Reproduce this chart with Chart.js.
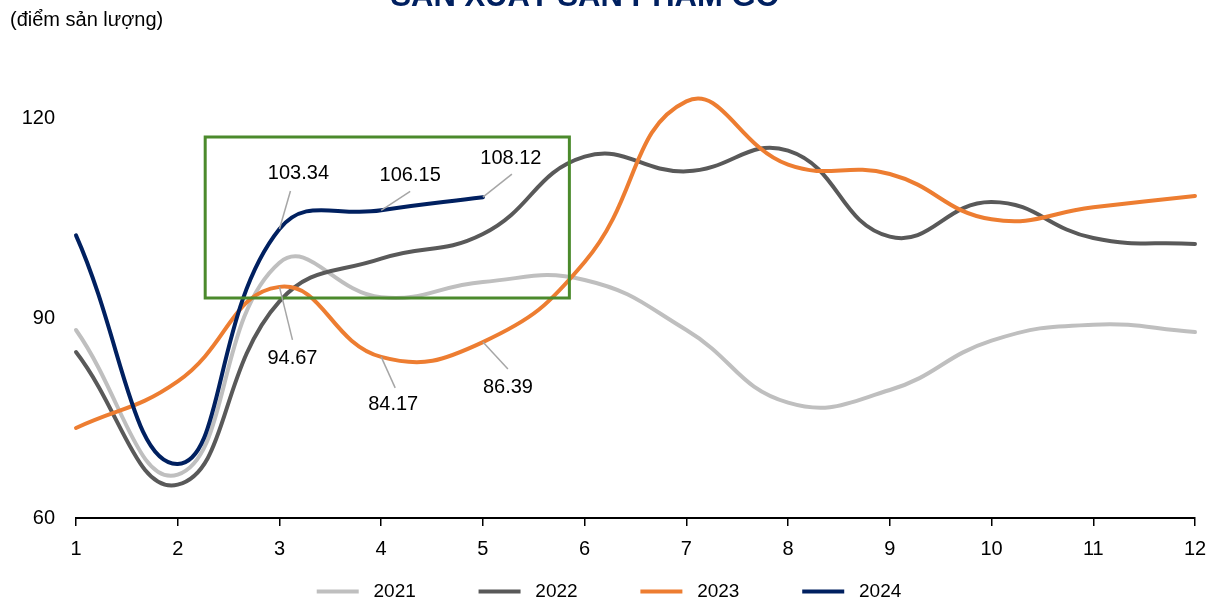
<!DOCTYPE html>
<html>
<head>
<meta charset="utf-8">
<script src="https://cdn.jsdelivr.net/npm/chart.js@4.4.1/dist/chart.umd.min.js"></script>
<style>
  html, body { margin: 0; padding: 0; background: #ffffff; }
  #wrap { position: relative; width: 1206px; height: 599px; }
</style>
</head>
<body>
<div id="wrap"><canvas id="chart" width="1206" height="599"></canvas></div>
<script>
// Monthly output index of wood products, one series per year
const months = [1, 2, 3, 4, 5, 6, 7, 8, 9, 10, 11, 12];
const years = ['2021', '2022', '2023', '2024'];
const values2021 = [88.2, 66.5, 98.3, 93.1, 95.4, 95.7, 88.2, 77.3, 79.2, 86.6, 89.0, 87.9];
const values2022 = [84.9, 65.0, 92.5, 98.9, 102.6, 114.2, 112.0, 115.1, 102.2, 107.4, 102.0, 101.1];
const values2023 = [73.5, 80.5, 94.67, 84.17, 86.39, 98.4, 122.5, 113.0, 111.6, 104.8, 106.6, 108.3];
const values2024 = [102.4, 68.1, 103.34, 106.15, 108.12];
const yTicks = [60, 90, 120];

const titleText = 'SẢN XUẤT SẢN PHẨM GỖ';
const unitText = '(điểm sản lượng)';

// Value callouts: [series index, month, value, label dx, label dy, leader dx, leader dy]
const callouts = [
  [3, 3, 103.34, 19, -56, 11, -38],
  [3, 4, 106.15, 29, -35, 29, -19],
  [3, 5, 108.12, 28, -39, 29, -23],
  [2, 3, 94.67, 13, 72, 13, 53],
  [2, 4, 84.17, 12, 48, 14, 31],
  [2, 5, 86.39, 25, 45, 25, 27]
];
// Highlight frame in data units: [xMin, xMax, yMin, yMax]
const frame = [2.27, 5.85, 93.0, 117.15];

const seriesValues = [values2021, values2022, values2023, values2024];
const colors = ['#BFBFBF', '#595959', '#ED7D31', '#002060'];
const FONT = "'Liberation Sans', Arial, sans-serif";

const toPoints = vals => vals.map((v, i) => ({ x: months[i], y: v }));

const datasets = years.map((yr, i) => ({
  label: yr,
  data: toPoints(seriesValues[i]),
  borderColor: colors[i],
  backgroundColor: colors[i],
  borderWidth: 4,
  pointRadius: 0,
  pointHoverRadius: 0,
  tension: 0.45,
  clip: false,
  order: years.length - 1 - i,
  borderCapStyle: 'round'
}));

const decorations = {
  id: 'decorations',
  afterDatasetsDraw(chart) {
    const { ctx, scales: { x, y } } = chart;
    ctx.save();
    // highlight frame
    ctx.strokeStyle = '#4B8A2C';
    ctx.lineWidth = 3;
    const fx0 = x.getPixelForValue(frame[0]);
    const fx1 = x.getPixelForValue(frame[1]);
    const fy0 = y.getPixelForValue(frame[3]);
    const fy1 = y.getPixelForValue(frame[2]);
    ctx.strokeRect(fx0, fy0, fx1 - fx0, fy1 - fy0);

    // callouts with leader lines
    ctx.font = '20px ' + FONT;
    ctx.textAlign = 'center';
    ctx.textBaseline = 'middle';
    callouts.forEach(([s, m, v, lx, ly, ex, ey]) => {
      const px = x.getPixelForValue(m);
      const py = y.getPixelForValue(v);
      ctx.strokeStyle = '#A6A6A6';
      ctx.lineWidth = 1.5;
      ctx.beginPath();
      ctx.moveTo(px, py);
      ctx.lineTo(px + ex, py + ey);
      ctx.stroke();
      ctx.fillStyle = '#000000';
      ctx.fillText(v.toFixed(2), px + lx, py + ly);
    });
    ctx.restore();
  },
  afterDraw(chart) {
    const { ctx } = chart;
    ctx.save();
    ctx.fillStyle = '#002060';
    ctx.font = 'bold 31px ' + FONT;
    ctx.textAlign = 'center';
    ctx.textBaseline = 'alphabetic';
    ctx.fillText(titleText, 585, 6);
    ctx.fillStyle = '#000000';
    ctx.font = '20px ' + FONT;
    ctx.textAlign = 'left';
    ctx.textBaseline = 'middle';
    ctx.fillText(unitText, 10, 20);
    ctx.restore();
  }
};

new Chart(document.getElementById('chart'), {
  type: 'line',
  data: { datasets },
  plugins: [decorations],
  options: {
    responsive: false,
    animation: false,
    events: [],
    layout: { padding: { top: 118, right: 0, left: 12, bottom: -12 } },
    elements: { line: { capBezierPoints: false } },
    scales: {
      x: {
        type: 'linear',
        min: 1,
        max: 12,
        afterFit(axis) {
          axis.height = 54;
          axis.paddingLeft = 0;
          axis.paddingRight = 11;
        },
        border: { display: true, color: '#000000', width: 2 },
        grid: { display: true, drawOnChartArea: false, drawTicks: true, tickLength: 8, color: '#000000', lineWidth: 1.5 },
        ticks: { stepSize: 1, padding: 11, color: '#000000', font: { family: FONT, size: 20 } }
      },
      y: {
        min: 60,
        max: 120,
        afterFit(axis) { axis.width = 64; },
        afterBuildTicks(axis) { axis.ticks = yTicks.map(v => ({ value: v })); },
        border: { display: false },
        grid: { display: false },
        ticks: { padding: 13, color: '#000000', font: { family: FONT, size: 20 } }
      }
    },
    plugins: {
      tooltip: { enabled: false },
      legend: {
        position: 'bottom',
        labels: {
          color: '#000000',
          font: { family: FONT, size: 19 },
          boxWidth: 42,
          boxHeight: 4,
          padding: 10,
          useBorderRadius: true,
          borderRadius: 2,
          sort: (a, b) => a.datasetIndex - b.datasetIndex,
          generateLabels(chart) {
            const n = chart.data.datasets.length;
            return chart.data.datasets.map((ds, i) => ({
              text: ' ' + ds.label + (i < n - 1 ? '          ' : ''),
              fillStyle: ds.borderColor,
              strokeStyle: ds.borderColor,
              lineWidth: 0,
              fontColor: '#000000',
              datasetIndex: i,
              hidden: false
            }));
          }
        }
      }
    }
  }
});
</script>
</body>
</html>
